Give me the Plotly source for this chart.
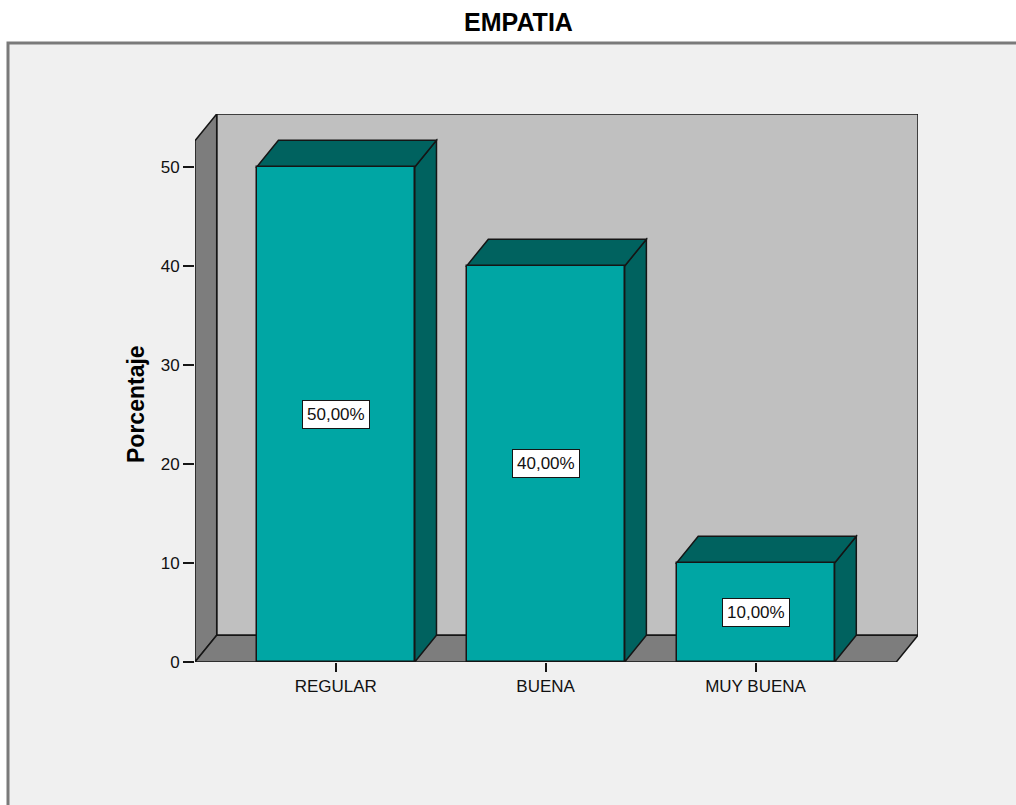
import plotly.graph_objects as go

# Data
categories = ["REGULAR", "BUENA", "MUY BUENA"]
percentages = [50.0, 40.0, 10.0]
y_ticks = [0, 10, 20, 30, 40, 50]

# Styling
FONT = "Arial, Liberation Sans, sans-serif"
FRONT = "#00a6a4"
DARK = "#00625f"
BACK_WALL = "#c0c0c0"
SIDE_WALL = "#7d7d7d"
FRAME_BG = "#f0f0f0"
EDGE = "#151515"

W, H = 1016, 805
ML, MR, MT, MB = 195, 98, 114, 143

BAR_W = 0.753          # bar width in category units
DX, DY = 0.1034, 2.7   # depth offset of the 3D box (x units, y units)
X_LO, X_HI = -0.6705, 2.6705   # front edges of the floor
WALL_TOP = 52.65

x_idx = list(range(len(categories)))

fig = go.Figure()

# front faces of the bars
fig.add_trace(go.Bar(
    x=x_idx, y=percentages, width=BAR_W,
    marker=dict(color=FRONT, line=dict(color=EDGE, width=1.5)),
    hoverinfo="skip", showlegend=False,
))


def path(pts):
    return "M " + " L ".join(f"{x},{y}" for x, y in pts) + " Z"


shapes = []

# outer frame around the chart area
px_x = lambda p: (p - ML) / (W - ML - MR)
px_y = lambda p: (H - MB - p) / (H - MT - MB)
shapes.append(dict(
    type="rect", xref="paper", yref="paper", layer="below",
    x0=px_x(8), x1=px_x(W + 20), y0=px_y(H + 20), y1=px_y(43),
    fillcolor=FRAME_BG, line=dict(color="#7a7a7a", width=3),
))

# back wall
shapes.append(dict(
    type="path", xref="x", yref="y", layer="below",
    path=path([(X_LO + DX, DY), (X_HI + DX, DY),
               (X_HI + DX, WALL_TOP + DY), (X_LO + DX, WALL_TOP + DY)]),
    fillcolor=BACK_WALL, line=dict(color=EDGE, width=1.5),
))
# left wall
shapes.append(dict(
    type="path", xref="x", yref="y", layer="below",
    path=path([(X_LO, 0), (X_LO, WALL_TOP),
               (X_LO + DX, WALL_TOP + DY), (X_LO + DX, DY)]),
    fillcolor=SIDE_WALL, line=dict(color=EDGE, width=1.5),
))
# floor
shapes.append(dict(
    type="path", xref="x", yref="y", layer="below",
    path=path([(X_LO, 0), (X_HI, 0), (X_HI + DX, DY), (X_LO + DX, DY)]),
    fillcolor=SIDE_WALL, line=dict(color=EDGE, width=1.5),
))

# top and side faces of each bar
for xi, v in zip(x_idx, percentages):
    x0, x1 = xi - BAR_W / 2, xi + BAR_W / 2
    shapes.append(dict(
        type="path", xref="x", yref="y", layer="below",
        path=path([(x1, 0), (x1, v), (x1 + DX, v + DY), (x1 + DX, DY)]),
        fillcolor=DARK, line=dict(color=EDGE, width=1.5),
    ))
    shapes.append(dict(
        type="path", xref="x", yref="y", layer="below",
        path=path([(x0, v), (x1, v), (x1 + DX, v + DY), (x0 + DX, v + DY)]),
        fillcolor=DARK, line=dict(color=EDGE, width=1.5),
    ))

# value labels in the middle of each bar
annotations = []
for xi, v in zip(x_idx, percentages):
    annotations.append(dict(
        x=xi, y=v / 2, xref="x", yref="y",
        text=f"{v:.2f}".replace(".", ",") + "%",
        showarrow=False, bgcolor="white", bordercolor=EDGE, borderwidth=1,
        borderpad=4, font=dict(family=FONT, size=17, color="#111"),
    ))

# y axis title
annotations.append(dict(
    x=px_x(136), y=px_y(404), xref="paper", yref="paper",
    xanchor="center", yanchor="middle",
    text="<b>Porcentaje</b>", textangle=-90, showarrow=False,
    font=dict(family=FONT, size=23, color="#000"),
))

fig.update_layout(
    width=W, height=H,
    margin=dict(l=ML, r=MR, t=MT, b=MB, autoexpand=False),
    paper_bgcolor="white", plot_bgcolor=FRAME_BG,
    title=dict(text="<b>EMPATIA</b>", x=518.5 / W, xref="container",
               y=1 - 22 / H, yref="container", xanchor="center", yanchor="middle",
               font=dict(family=FONT, size=25, color="#000")),
    shapes=shapes, annotations=annotations,
    xaxis=dict(range=[X_LO, X_HI + DX], tickvals=x_idx, ticktext=categories,
               ticks="outside", ticklen=9, tickwidth=1.5, tickcolor=EDGE,
               showgrid=False, zeroline=False, showline=False, fixedrange=True,
               tickfont=dict(family=FONT, size=17, color="#111")),
    yaxis=dict(range=[0, WALL_TOP + DY], tickvals=y_ticks,
               ticks="outside", ticklen=11, tickwidth=1.5, tickcolor=EDGE,
               showgrid=False, zeroline=False, showline=False, fixedrange=True,
               tickfont=dict(family=FONT, size=17, color="#111")),
    bargap=0,
)

fig.write_html("out.html")
